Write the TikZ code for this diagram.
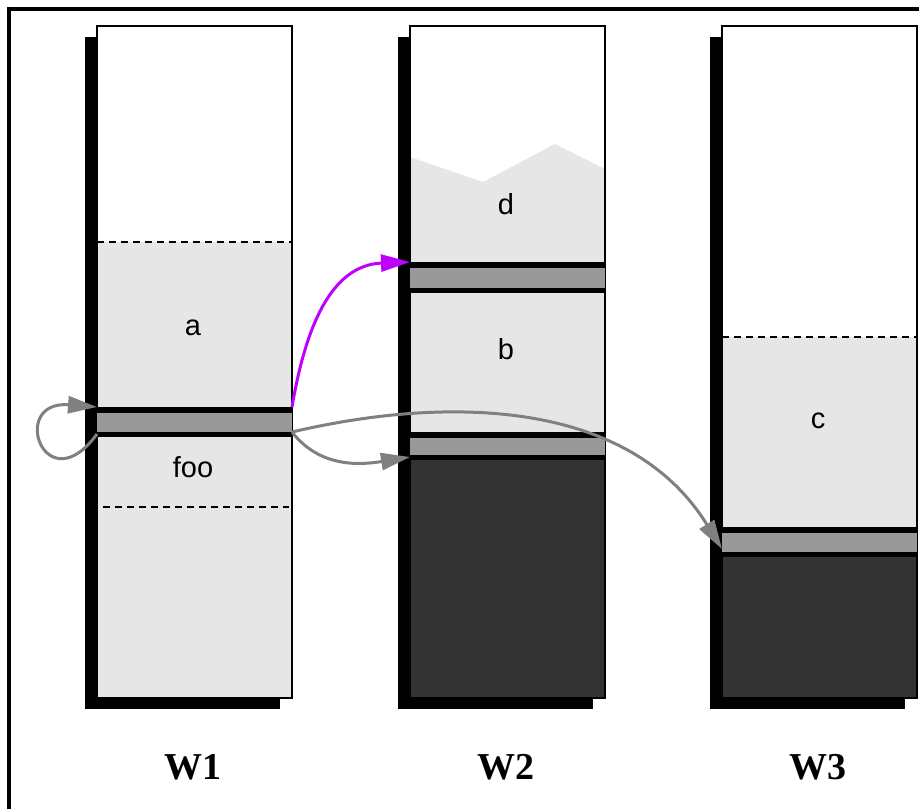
\documentclass[tikz,border=0pt]{standalone}
\usepackage{fontspec}
\setmainfont{Liberation Serif}
\newfontfamily\lsans{Liberation Sans}
\usetikzlibrary{shadows,arrows.meta}
\definecolor{lightfill}{HTML}{E6E6E6}
\definecolor{bandgray}{HTML}{999999}
\definecolor{darkfill}{HTML}{333333}
\definecolor{arrowgray}{HTML}{808080}
\definecolor{purplearrow}{HTML}{BF00FF}
\begin{document}
\begin{tikzpicture}[x=1pt,y=-1pt,
  colbox/.style={anchor=north west, minimum width=195pt, minimum height=672pt, inner sep=0pt, outer sep=0pt,
    fill=white, draw=black, line width=2pt,
    drop shadow={shadow xshift=-12pt, shadow yshift=-11pt, fill=black, opacity=1}},
  boxline/.style={draw=black, line width=2pt},
  band/.style={anchor=north west, minimum width=195pt, inner sep=0pt, outer sep=0pt, fill=bandgray,
    path picture={
      \fill[black] (path picture bounding box.north west) rectangle ([yshift=-5.5pt]path picture bounding box.north east);
      \fill[black] (path picture bounding box.south west) rectangle ([yshift=5.5pt]path picture bounding box.south east);}},
  dashline/.style={draw=black, line width=2.6pt, dash pattern=on 7pt off 5pt},
  lbl/.style={font=\lsans\fontsize{29}{34}\selectfont, inner sep=0pt},
  wlbl/.style={font=\bfseries\fontsize{38}{44}\selectfont, inner sep=0pt},
  garrow/.style={draw=arrowgray, line width=3pt, -{Triangle[length=29pt,width=17pt]}},
  parrow/.style={draw=purplearrow, line width=3pt, -{Triangle[length=29pt,width=17pt]}}
]
\useasboundingbox (0,0) rectangle (919,809);
\fill[white] (0,0) rectangle (919,809);
\draw[line width=3.2pt] (9,812) -- (9,9) -- (922,9);

% columns
\node[colbox] (col1) at (97,26) {};
\node[colbox] (col2) at (410,26) {};
\node[colbox] (col3) at (722,26) {};

% column 1 contents
\fill[lightfill] (97,242) rectangle (292,698);
\draw[dashline] (97,242) -- (292,242);
\draw[dashline] (103,507) -- (289,507);

% column 2 contents
\fill[lightfill] (410,157) -- (483,182) -- (555,144) -- (605,169) -- (605,432) -- (410,432) -- cycle;
\fill[darkfill] (410,460) rectangle (605,698);

% column 3 contents
\fill[lightfill] (722,337) rectangle (917,527);
\draw[dashline] (722,337) -- (917,337);
\fill[darkfill] (722,557) rectangle (917,698);

% outlines
\draw[boxline] (col1.north west) rectangle (col1.south east);
\draw[boxline] (col2.north west) rectangle (col2.south east);
\draw[boxline] (col3.north west) rectangle (col3.south east);

% bands
\node[band, minimum height=30pt] (b1) at (97,407) {};
\node[band, minimum height=31pt] (b2) at (410,262) {};
\node[band, minimum height=28pt] (b3) at (410,432) {};
\node[band, minimum height=30pt] (b4) at (722,527) {};

% labels
\node[lbl] (la) at (193,328) {a};
\node[lbl] (lfoo) at (193,467) {foo};
\node[lbl] (ld) at (506,204) {d};
\node[lbl] (lb) at (506,349) {b};
\node[lbl] (lc) at (818,421) {c};
\node[wlbl] (w1) at (193,767) {W1};
\node[wlbl] (w2) at (506,767) {W2};
\node[wlbl] (w3) at (818,767) {W3};

% connectors
\draw[garrow] ([yshift=3pt]b1.south west) .. controls (45,505) and (8,400) .. (b1.north west);
\draw[parrow] (b1.north east) .. controls (305,330) and (330,265) .. (b2.north west);
\draw[garrow] ([yshift=5pt]b1.south east) .. controls (320,468) and (360,465) .. ([yshift=3pt]b3.south west);
\draw[garrow] ([yshift=5pt]b1.south east) .. controls (450,395) and (630,400) .. ([yshift=8pt]b4.south west);
\end{tikzpicture}
\end{document}
